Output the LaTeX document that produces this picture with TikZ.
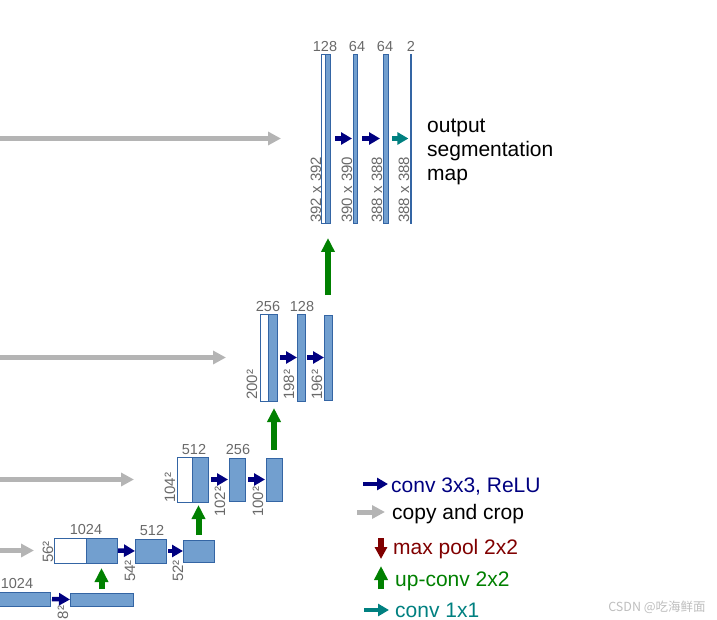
\documentclass[tikz,border=0pt]{standalone}
\usepackage{fontspec}
\setmainfont{Liberation Sans}
\newfontfamily\cjk{Noto Sans CJK SC}
\usetikzlibrary{arrows.meta}
\definecolor{barfill}{RGB}{114,159,207}
\definecolor{barline}{RGB}{52,101,164}
\definecolor{navyc}{RGB}{0,0,128}
\definecolor{greenc}{RGB}{0,128,0}
\definecolor{tealc}{RGB}{0,128,128}
\definecolor{redc}{RGB}{128,0,0}
\definecolor{copyc}{RGB}{180,180,180}
\definecolor{labc}{RGB}{105,105,105}
\definecolor{wmc}{RGB}{190,190,190}
\begin{document}
\begin{tikzpicture}[x=1pt,y=-1pt,
  bar/.style={draw=barline, fill=barfill, line width=0.8pt, inner sep=0pt, outer sep=0pt},
  wbar/.style={draw=barline, fill=white, line width=0.8pt, inner sep=0pt, outer sep=0pt},
  num/.style={text=labc, font=\fontsize{14.5}{16}\selectfont, inner sep=0pt},
  dimlab/.style={text=labc, font=\fontsize{15}{16}\selectfont, inner sep=0pt, rotate=90, anchor=base west},
  conv/.style={draw=navyc, line width=4.5pt, -{Triangle[length=11pt,width=12pt]}},
  convone/.style={draw=tealc, line width=4.5pt, -{Triangle[length=11pt,width=12pt]}},
  copyarr/.style={draw=copyc, line width=5pt, -{Triangle[length=13pt,width=13pt]}},
  uparr/.style={draw=greenc, line width=6pt, -{Triangle[length=14pt,width=13pt]}},
  downarr/.style={draw=redc, line width=6pt, -{Triangle[length=12pt,width=12pt]}},
  legtext/.style={font=\fontsize{21}{24}\selectfont, inner sep=0pt, anchor=base west}
]
\useasboundingbox (0,0) rectangle (717,620);
\clip (0,0) rectangle (717,620);

% ---------- row 1 (output level) ----------
\node[wbar, minimum width=4pt, minimum height=169pt] (w1) at (323,138.5) {};
\node[bar, minimum width=5pt, minimum height=169pt] (b1) at (327.5,138.5) {};
\node[bar, minimum width=4pt, minimum height=169pt] (b1b) at (355,138.5) {};
\node[bar, minimum width=5pt, minimum height=169pt] (b1c) at (385.5,138.5) {};
\node[bar, minimum width=1.2pt, minimum height=169pt] (b1d) at (411,138.5) {};
\node[num] (n1a) at (325,46.5) {128};
\node[num] (n1b) at (357,46.5) {64};
\node[num] (n1c) at (385,46.5) {64};
\node[num] (n1d) at (411,46.5) {2};
\node[dimlab] (d1a) at (321,223) {392 x 392};
\node[dimlab] (d1b) at (352,223) {390 x 390};
\node[dimlab] (d1c) at (382,223) {388 x 388};
\node[dimlab] (d1d) at (409,223) {388 x 388};
\draw[conv, shorten <=5pt, shorten >=1pt] (b1.east) -- (b1b.west);
\draw[conv, shorten <=5pt, shorten >=3pt] (b1b.east) -- (b1c.west);
\draw[convone, shorten <=4pt, shorten >=2pt] (b1c.east) -- (b1d.west);
\node[font=\fontsize{21}{24}\selectfont, align=left, inner sep=0pt, anchor=base west] (out) at (427,181) {output\\segmentation\\map};

% ---------- row 2 ----------
\node[wbar, minimum width=8pt, minimum height=87pt] (w2) at (264,357.5) {};
\node[bar, minimum width=9pt, minimum height=87pt] (b2) at (272.5,357.5) {};
\node[bar, minimum width=8pt, minimum height=87pt] (b2b) at (301,357.5) {};
\node[bar, minimum width=8pt, minimum height=85pt] (b2c) at (328,357.5) {};
\node[num] (n2a) at (268,306.5) {256};
\node[num] (n2b) at (302,306.5) {128};
\node[dimlab] (d2a) at (257,400) {200²};
\node[dimlab] (d2b) at (294,400) {198²};
\node[dimlab] (d2c) at (322,400) {196²};
\draw[conv, shorten <=3pt, shorten >=0pt] (b2.east) -- (b2b.west);
\draw[conv, shorten <=2pt, shorten >=0pt] (b2b.east) -- (b2c.west);

% ---------- row 3 ----------
\node[wbar, minimum width=15pt, minimum height=45pt] (w3) at (184.5,479.5) {};
\node[bar, minimum width=16pt, minimum height=45pt] (b3) at (200,479.5) {};
\node[bar, minimum width=16pt, minimum height=43pt] (b3b) at (237,479.5) {};
\node[bar, minimum width=16pt, minimum height=43pt] (b3c) at (274,479.5) {};
\node[num] (n3a) at (194,449.5) {512};
\node[num] (n3b) at (238,449.5) {256};
\node[dimlab] (d3a) at (175,503) {104²};
\node[dimlab] (d3b) at (225,517) {102²};
\node[dimlab] (d3c) at (263,517) {100²};
\draw[conv, shorten <=3pt, shorten >=1pt] (b3.east) -- (b3b.west);
\draw[conv, shorten <=3pt, shorten >=1pt] (b3b.east) -- (b3c.west);

% ---------- row 4 ----------
\node[wbar, minimum width=32pt, minimum height=25pt] (w4) at (70,550.5) {};
\node[bar, minimum width=31pt, minimum height=25pt] (b4) at (101.5,550.5) {};
\node[bar, minimum width=31pt, minimum height=24pt] (b4b) at (150.5,551) {};
\node[bar, minimum width=31pt, minimum height=22pt] (b4c) at (198.5,551) {};
\node[num] (n4a) at (86,529.5) {1024};
\node[num] (n4b) at (152,530.5) {512};
\node[dimlab] (d4a) at (53,563) {56²};
\node[dimlab] (d4b) at (135,582) {54²};
\node[dimlab] (d4c) at (183,582) {52²};
\draw[conv, shorten <=1pt, shorten >=0pt] (b4.east) -- (b4b.west);
\draw[conv, shorten <=2pt, shorten >=0pt] (b4b.east) -- (b4c.west);

% ---------- row 5 ----------
\node[bar, minimum width=60pt, minimum height=14pt] (b5) at (20,599) {};
\node[bar, minimum width=63pt, minimum height=13pt] (b5b) at (101.5,599.5) {};
\node[num] (n5a) at (17,583.5) {1024};
\node[dimlab] (d5a) at (68,619.5) {8²};
\draw[conv, shorten <=2pt, shorten >=0pt] (b5.east) -- (b5b.west);

% ---------- up-convolutions ----------
\draw[uparr, shorten <=4pt, shorten >=5pt] (b5b.north) -- (b5b.north |- b4.south);
\draw[uparr, shorten <=5pt, shorten >=3pt] (b4c.north) -- (b4c.north |- b3.south);
\draw[uparr, shorten <=8pt, shorten >=7pt] (b3c.north) -- (b3c.north |- b2.south);
\draw[uparr, shorten <=20pt, shorten >=15pt] (b2c.north) -- (b2c.north |- b1.south);

% ---------- copy and crop ----------
\coordinate (c1) at (-5,138.5);
\coordinate (c2) at (-5,357.5);
\coordinate (c3) at (-5,479.5);
\coordinate (c4) at (-5,550.5);
\draw[copyarr, shorten >=40pt] (c1) -- (w1.west);
\draw[copyarr, shorten >=34pt] (c2) -- (w2.west);
\draw[copyarr, shorten >=43pt] (c3) -- (w3.west);
\draw[copyarr, shorten >=20pt] (c4) -- (w4.west);

% ---------- legend ----------
\coordinate (l1a) at (363,484); \coordinate (l1b) at (388,484);
\coordinate (l2a) at (357,512); \coordinate (l2b) at (385,512);
\coordinate (l3a) at (381,538); \coordinate (l3b) at (381,559);
\coordinate (l4a) at (381,589); \coordinate (l4b) at (381,566);
\coordinate (l5a) at (364,610); \coordinate (l5b) at (389,610);
\draw[conv] (l1a) -- (l1b);
\draw[copyarr] (l2a) -- (l2b);
\draw[downarr] (l3a) -- (l3b);
\draw[uparr] (l4a) -- (l4b);
\draw[convone] (l5a) -- (l5b);
\node[legtext, text=navyc] (t1) at (391,492) {conv 3x3, ReLU};
\node[legtext, text=black] (t2) at (392,519) {copy and crop};
\node[legtext, text=redc] (t3) at (393,554) {max pool 2x2};
\node[legtext, text=greenc] (t4) at (395,586) {up-conv 2x2};
\node[legtext, text=tealc] (t5) at (395,617) {conv 1x1};

% ---------- watermark ----------
\node[text=wmc, font=\cjk\fontsize{12.5}{14}\selectfont, inner sep=0pt] (wm) at (657,607) {CSDN @吃海鲜面};
\end{tikzpicture}
\end{document}
